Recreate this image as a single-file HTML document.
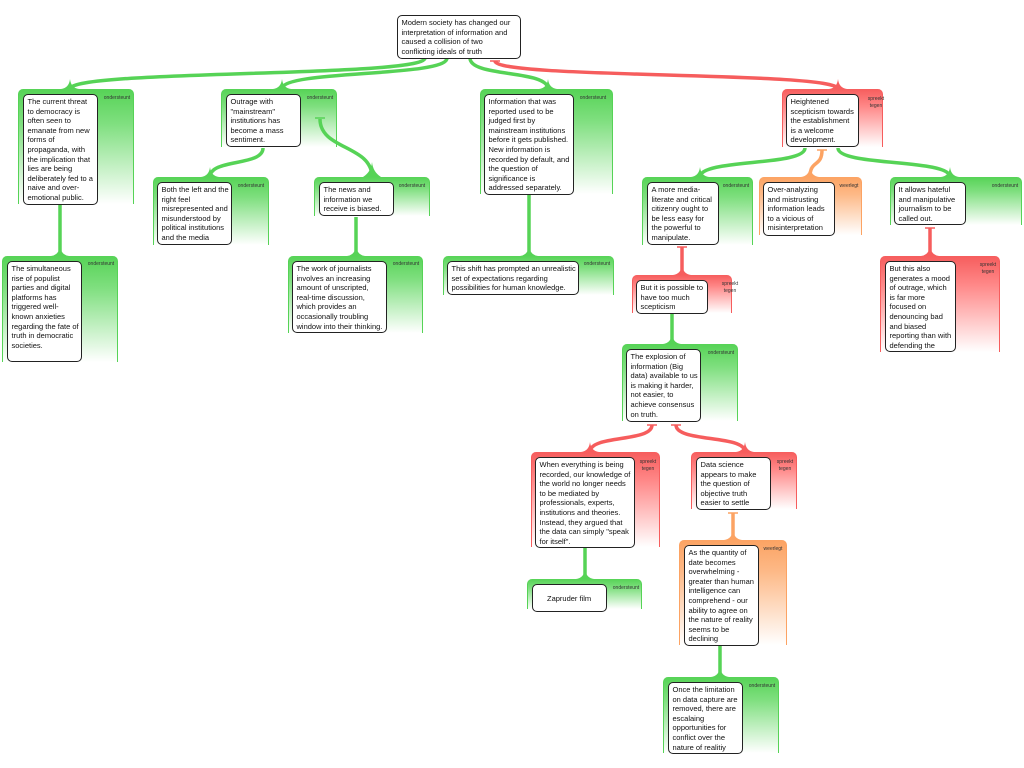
<!DOCTYPE html>
<html><head><meta charset="utf-8"><style>
body{margin:0;width:1024px;height:768px;background:#fff;position:relative;overflow:hidden;font-family:"Liberation Sans",sans-serif}
.p{position:absolute;border-radius:5px 5px 0 0;box-sizing:border-box;z-index:0}
.g{background:linear-gradient(to bottom,#56d356 0%,#7fdf7f 30%,#fff 100%);border-left:1.5px solid #56d356;border-right:1.5px solid #56d356}
.r{background:linear-gradient(to bottom,#f65d5d 0%,#f88 30%,#fff 100%);border-left:1.5px solid #f65d5d;border-right:1.5px solid #f65d5d}
.o{background:linear-gradient(to bottom,#fca363 0%,#fdb987 30%,#fff 100%);border-left:1.5px solid #fca363;border-right:1.5px solid #fca363}
.b{position:absolute;z-index:2;background:#fff;border:1.5px solid #222;border-radius:5px;box-sizing:border-box;font-size:7.5px;line-height:9.6px;color:#111;padding:2px 2px 0 3.5px;overflow:hidden}
.l{position:absolute;z-index:2;font-size:5px;line-height:7px;color:#333;text-align:center;width:30px}
svg{position:absolute;left:0;top:0;z-index:1}
</style></head><body>
<svg id="s" width="1024" height="768"></svg>

<div class="b" style="left:397px;top:15px;width:124px;height:44px">Modern society has changed our interpretation of information and caused a collision of  two conflicting ideals of truth</div>

<div class="p g" style="left:18px;top:89px;width:116px;height:115px"></div>
<div class="b" style="left:23px;top:94px;width:75px;height:111px">The current threat to democracy is often seen to emanate from new forms of propaganda, with the implication that lies are being deliberately fed to a naive and over-emotional public.</div>
<div class="l" style="left:102px;top:95px">ondersteunt</div>

<div class="p g" style="left:2px;top:256px;width:116px;height:106px"></div>
<div class="b" style="left:7px;top:261px;width:75px;height:101px">The simultaneous rise of populist parties and digital platforms has triggered well-known anxieties regarding the fate of truth in democratic societies.</div>
<div class="l" style="left:86px;top:261px">ondersteunt</div>

<div class="p g" style="left:221px;top:89px;width:116px;height:58px"></div>
<div class="b" style="left:226px;top:94px;width:75px;height:53px">Outrage with "mainstream" institutions has become a mass sentiment.</div>
<div class="l" style="left:305px;top:95px">ondersteunt</div>

<div class="p g" style="left:153px;top:177px;width:116px;height:68px"></div>
<div class="b" style="left:157px;top:182px;width:75px;height:63px">Both the left and the right feel misrepresented and misunderstood by political institutions and the media</div>
<div class="l" style="left:236px;top:183px">ondersteunt</div>

<div class="p g" style="left:314px;top:177px;width:116px;height:39px"></div>
<div class="b" style="left:319px;top:182px;width:75px;height:34px">The news and information we receive is biased.</div>
<div class="l" style="left:397px;top:183px">ondersteunt</div>

<div class="p g" style="left:288px;top:256px;width:135px;height:77px"></div>
<div class="b" style="left:292px;top:261px;width:95px;height:72px">The work of journalists involves an increasing amount of unscripted, real-time discussion, which provides an occasionally troubling window into their thinking.</div>
<div class="l" style="left:391px;top:261px">ondersteunt</div>

<div class="p g" style="left:480px;top:89px;width:133px;height:105px"></div>
<div class="b" style="left:484px;top:94px;width:90px;height:101px">Information that was reported used to be judged first by mainstream institutions before it gets published. New information is recorded  by default, and the question of significance is addressed separately.</div>
<div class="l" style="left:578px;top:95px">ondersteunt</div>

<div class="p g" style="left:443px;top:256px;width:171px;height:39px"></div>
<div class="b" style="left:447px;top:261px;width:132px;height:34px">This shift has prompted an unrealistic set of expectations regarding possibilities for human knowledge.</div>
<div class="l" style="left:582px;top:261px">ondersteunt</div>

<div class="p r" style="left:782px;top:89px;width:101px;height:58px"></div>
<div class="b" style="left:786px;top:94px;width:73px;height:53px">Heightened scepticism towards the establishment is a welcome development.</div>
<div class="l" style="left:861px;top:96px">spreekt tegen</div>

<div class="p g" style="left:642px;top:177px;width:111px;height:68px"></div>
<div class="b" style="left:647px;top:182px;width:72px;height:63px">A more media-literate and critical citizenry ought to be less easy for the powerful to manipulate.</div>
<div class="l" style="left:721px;top:183px">ondersteunt</div>

<div class="p o" style="left:759px;top:177px;width:103px;height:58px"></div>
<div class="b" style="left:763px;top:182px;width:72px;height:54px">Over-analyzing and mistrusting information leads to a vicious of misinterpretation</div>
<div class="l" style="left:834px;top:183px">weerlegt</div>

<div class="p g" style="left:890px;top:177px;width:132px;height:48px"></div>
<div class="b" style="left:894px;top:182px;width:72px;height:43px">It allows hateful and manipulative journalism to be called out.</div>
<div class="l" style="left:990px;top:183px">ondersteunt</div>

<div class="p r" style="left:880px;top:256px;width:120px;height:96px"></div>
<div class="b" style="left:885px;top:261px;width:71px;height:91px">But this also generates a mood of outrage, which is far more focused on denouncing bad and biased reporting than with defending the alternative.</div>
<div class="l" style="left:973px;top:262px">spreekt tegen</div>

<div class="p r" style="left:632px;top:275px;width:100px;height:38px"></div>
<div class="b" style="left:636px;top:280px;width:72px;height:34px">But it is possible to have too much scepticism</div>
<div class="l" style="left:715px;top:281px">spreekt tegen</div>

<div class="p g" style="left:622px;top:344px;width:116px;height:77px"></div>
<div class="b" style="left:626px;top:349px;width:75px;height:73px">The explosion of information (Big data) available to us is making it harder, not easier, to achieve consensus on truth.</div>
<div class="l" style="left:706px;top:350px">ondersteunt</div>

<div class="p r" style="left:531px;top:452px;width:129px;height:95px"></div>
<div class="b" style="left:535px;top:457px;width:100px;height:91px">When everything is being recorded, our knowledge of the world no longer needs to be mediated by professionals, experts, institutions and theories. Instead, they argued that the data can simply "speak for itself".</div>
<div class="l" style="left:633px;top:459px">spreekt tegen</div>

<div class="p g" style="left:527px;top:579px;width:115px;height:30px"></div>
<div class="b" style="left:532px;top:584px;width:75px;height:28px;padding:9px 4px 0 14px">Zapruder film</div>
<div class="l" style="left:611px;top:585px">ondersteunt</div>

<div class="p r" style="left:691px;top:452px;width:106px;height:57px"></div>
<div class="b" style="left:696px;top:457px;width:75px;height:53px">Data science appears to make the question of objective truth easier to settle</div>
<div class="l" style="left:770px;top:459px">spreekt tegen</div>

<div class="p o" style="left:679px;top:540px;width:108px;height:105px"></div>
<div class="b" style="left:684px;top:545px;width:75px;height:101px">As the quantity of date becomes overwhelming - greater than human intelligence can comprehend - our ability to agree on the nature of reality seems to be declining</div>
<div class="l" style="left:758px;top:546px">weerlegt</div>

<div class="p g" style="left:663px;top:677px;width:116px;height:76px"></div>
<div class="b" style="left:668px;top:682px;width:75px;height:72px">Once the limitation on data capture are removed, there are escalaing opportunities for conflict over the nature of realitiy</div>
<div class="l" style="left:747px;top:683px">ondersteunt</div>

<script>
var C={g:"#56d356",r:"#f65d5d",o:"#fca363"};
var L=[
[425,58,70,89,"g"],[447,58,282,89,"g"],[470,58,548,89,"g"],[495,61,838,89,"r"],
[60,205,60,256,"g"],[263,148,210,177,"g"],[356,217,356,256,"g"],[529,195,529,256,"g"],
[805,148,700,177,"g"],[822,150,810,177,"o"],[838,148,950,177,"g"],
[930,228,930,256,"r"],[682,247,682,275,"r"],[672,314,672,344,"g"],
[652,425,590,452,"r"],[676,425,745,452,"r"],[585,548,585,579,"g"],
[733,513,733,540,"o"],[720,646,720,677,"g"]];
var s="";
L.forEach(function(a){var x1=a[0],y1=a[1],x2=a[2],y2=a[3],c=C[a[4]];var m=(y1+y2)/2;
s+='<path d="M'+x1+','+y1+' C'+x1+','+(m+4)+' '+x2+','+(m-4)+' '+x2+','+y2+'" fill="none" stroke="'+c+'" stroke-width="3.5"/>';
s+='<path d="M'+(x2-9)+','+y2+' Q'+(x2-1)+','+(y2-1)+' '+x2+','+(y2-10)+' Q'+(x2+1)+','+(y2-1)+' '+(x2+9)+','+y2+' Z" fill="'+c+'"/>';
if(a[4]!="g")s+='<line x1="'+(x1-5)+'" y1="'+y1+'" x2="'+(x1+5)+'" y2="'+y1+'" stroke="'+c+'" stroke-width="1.5"/>';});
s+='<path d="M372,177 C372,145 320,150 320,119" fill="none" stroke="#56d356" stroke-width="3.5"/><line x1="315" y1="118" x2="325" y2="118" stroke="#56d356" stroke-width="1.5"/>';
s+='<path d="M363,177 Q371,172 372,162 Q373,172 381,177 Z" fill="#56d356"/>';
document.getElementById("s").innerHTML=s;
</script>
</body></html>
